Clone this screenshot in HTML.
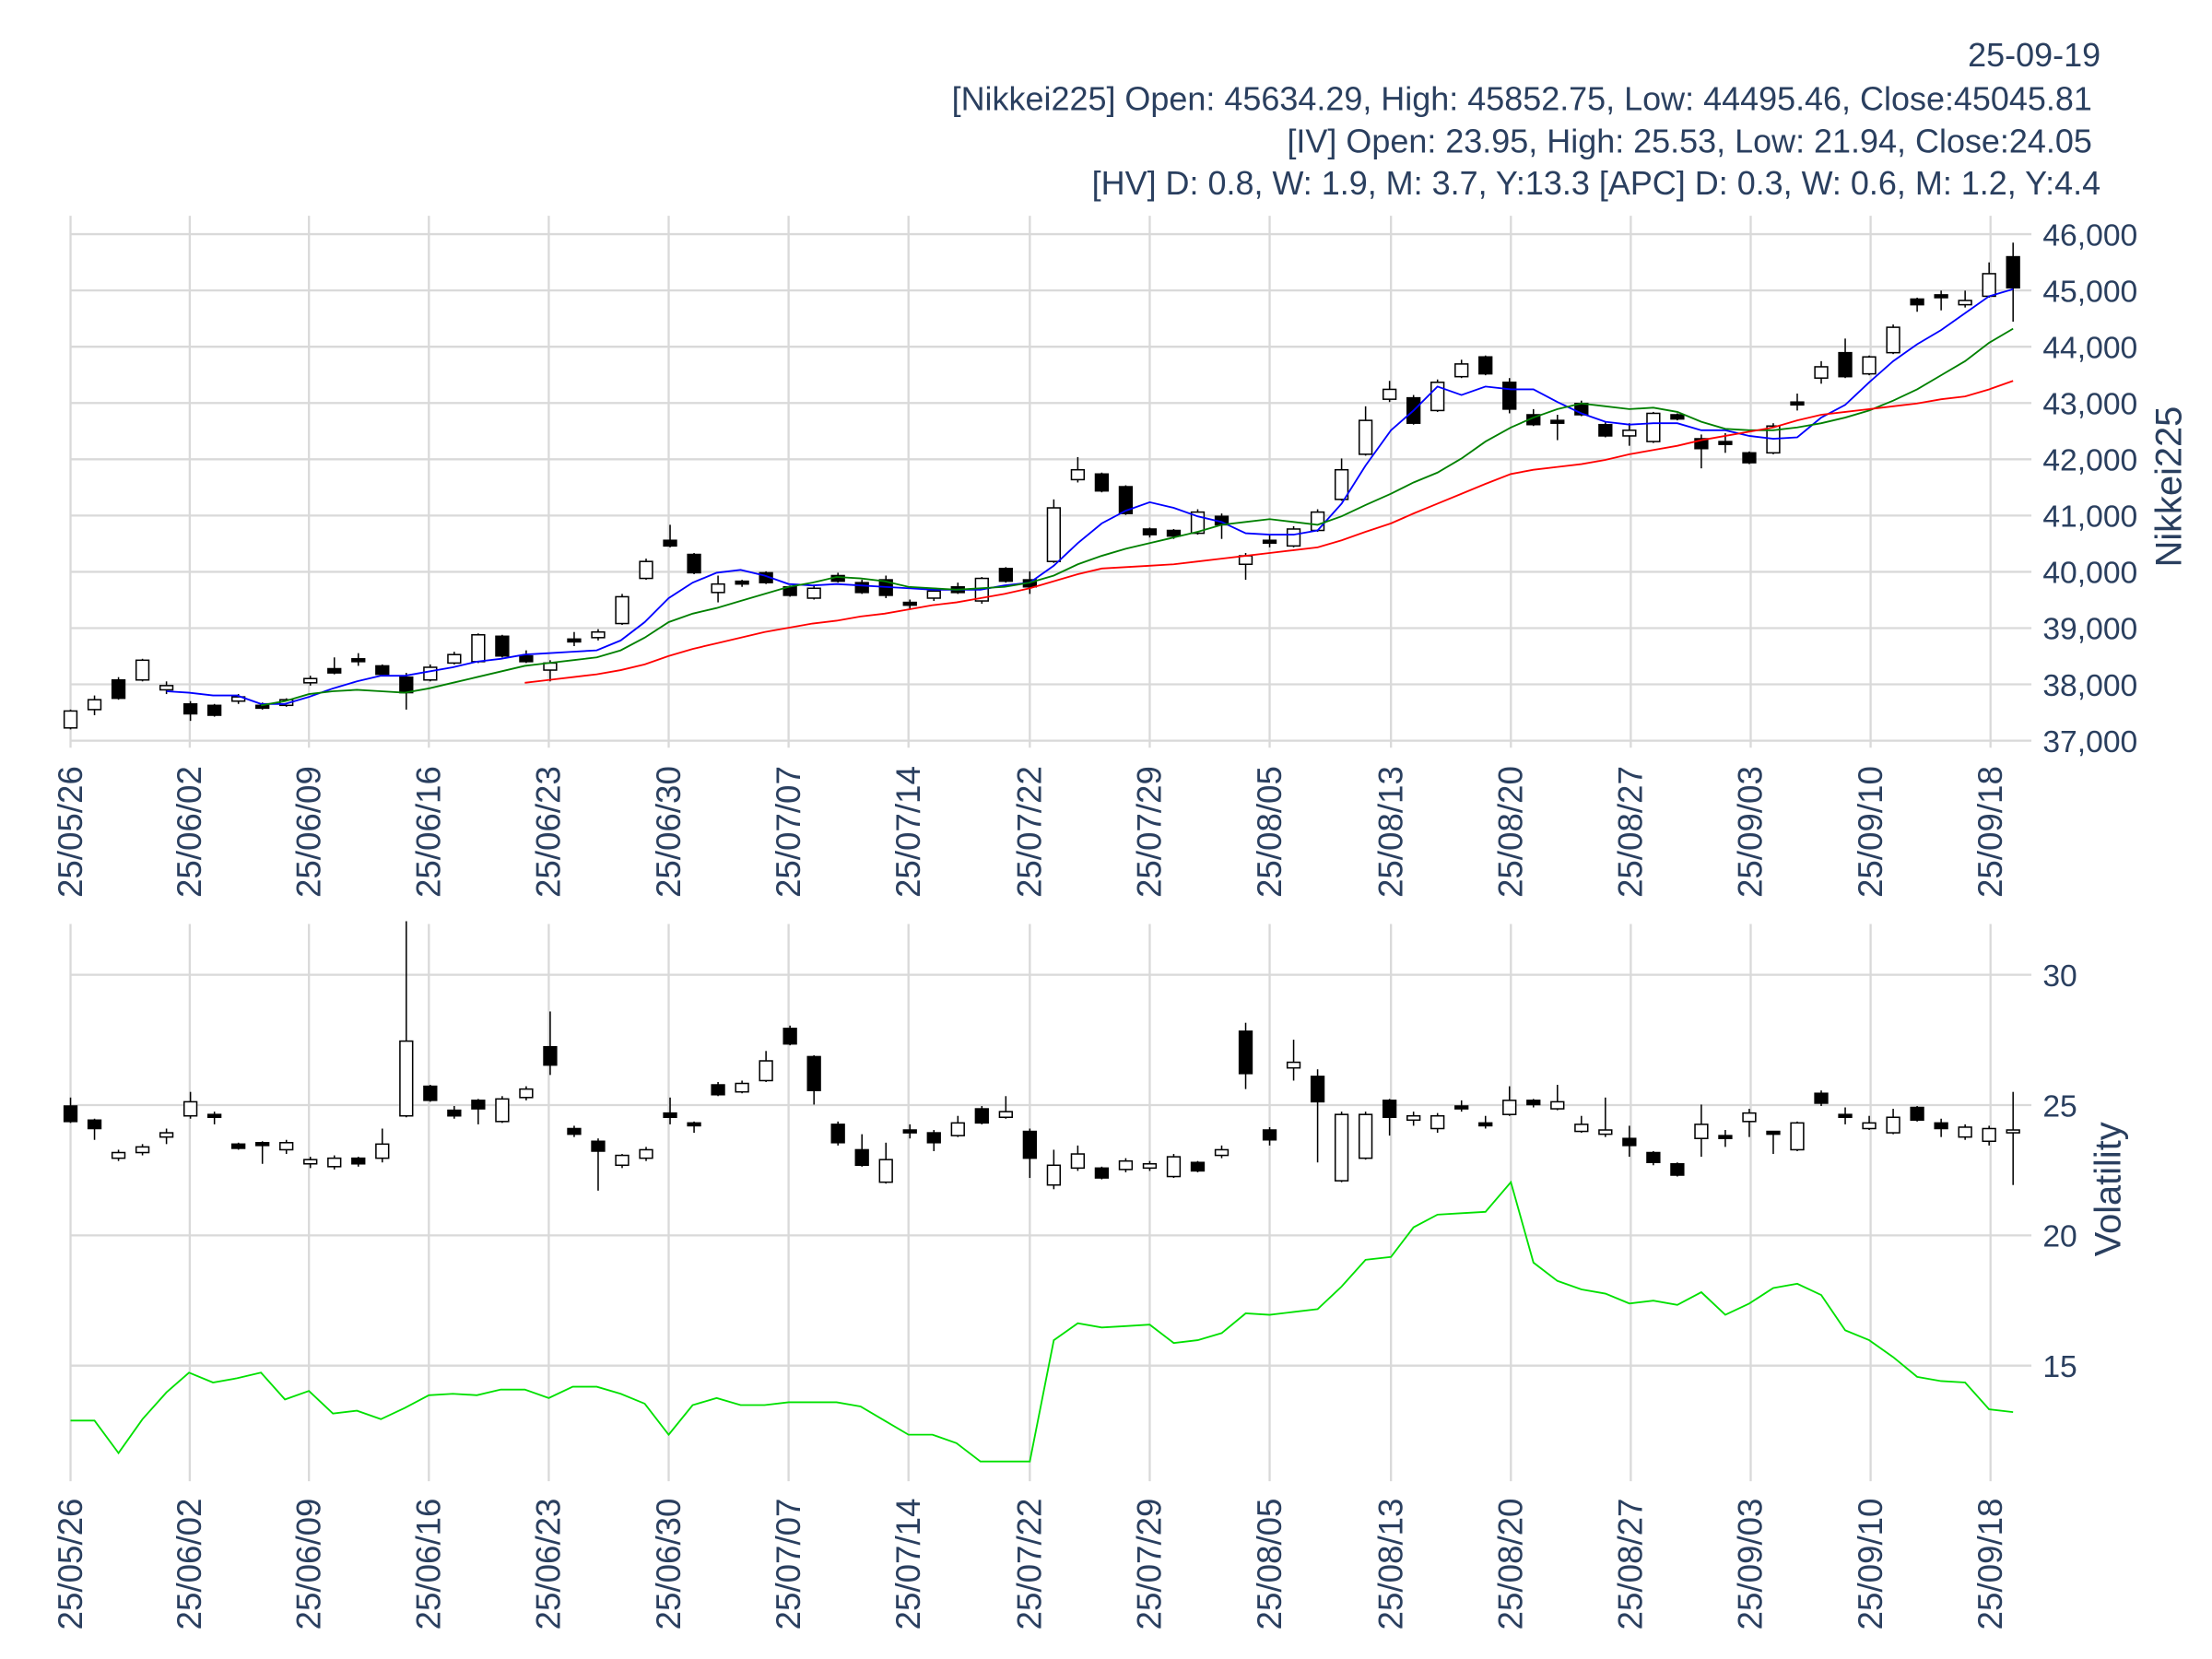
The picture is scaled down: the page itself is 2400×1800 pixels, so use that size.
<!DOCTYPE html>
<html><head><meta charset="utf-8"><style>
html,body{margin:0;padding:0;background:#fff}
svg{display:block}
text{font-family:"Liberation Sans",sans-serif;fill:#2a3f5f}
</style></head><body>
<svg id="s" width="2400" height="1800" viewBox="0 0 1568 1176" xmlns="http://www.w3.org/2000/svg">
<rect width="1568" height="1176" fill="#fff"/>
<g id="grid" stroke="#d9d9d9" stroke-width="1.5"></g>
<g id="c"></g>
<g font-size="23.5">
<text x="1489" y="47" text-anchor="end">25-09-19</text>
<text x="1483" y="78" text-anchor="end">[Nikkei225] Open: 45634.29, High: 45852.75, Low: 44495.46, Close:45045.81</text>
<text x="1483" y="108" text-anchor="end">[IV] Open: 23.95, High: 25.53, Low: 21.94, Close:24.05</text>
<text x="1489" y="138" text-anchor="end">[HV] D: 0.8, W: 1.9, M: 3.7, Y:13.3 [APC] D: 0.3, W: 0.6, M: 1.2, Y:4.4</text>
<text transform="translate(1546,345) rotate(-90)" text-anchor="middle" font-size="26">Nikkei225</text>
<text transform="translate(1503,843) rotate(-90)" text-anchor="middle" font-size="26">Volatility</text>
</g>
<g id="t" font-size="22"></g>
</svg>
<script>
(function(){
var NS="http://www.w3.org/2000/svg";
function el(p,tag,a,txt){var e=document.createElementNS(NS,tag);for(var k in a)e.setAttribute(k,a[k]);if(txt!==undefined)e.textContent=txt;p.appendChild(e);return e;}
var G=document.getElementById('grid'),C=document.getElementById('c'),T=document.getElementById('t');
var dx=[50,134.5,219,304,389,474,559,644,730,815,900,986,1071,1156,1241,1326,1411];
var dl=["25/05/26","25/06/02","25/06/09","25/06/16","25/06/23","25/06/30","25/07/07","25/07/14","25/07/22","25/07/29","25/08/05","25/08/13","25/08/20","25/08/27","25/09/03","25/09/10","25/09/18"];
dx.forEach(function(x,i){
 el(G,'line',{x1:x,x2:x,y1:153,y2:530});
 el(G,'line',{x1:x,x2:x,y1:655,y2:1050});
 el(T,'text',{transform:'translate('+(x+8)+',543) rotate(-90)','text-anchor':'end','font-size':24},dl[i]);
 el(T,'text',{transform:'translate('+(x+8)+',1062) rotate(-90)','text-anchor':'end','font-size':24},dl[i]);
});
for(var v=37000;v<=46000;v+=1000){var y=166+(46000-v)*0.03989;
 el(G,'line',{x1:50,x2:1440,y1:y,y2:y});
 el(T,'text',{x:1448,y:y+8},(v/1000)+',000');}
[30,25,20,15].forEach(function(v){var y=691+(30-v)*18.47;
 el(G,'line',{x1:50,x2:1440,y1:y,y2:y});
 el(T,'text',{x:1448,y:y+8},v);});
var tc=[[504,516,503,517,0],[496,503,493,507,0],[482,495,480,496,1],[468,482,467,483,0],[486,489,483,492,0],[499,506,497,511,1],[500,507,499,508,1],[494,497,492,499,0],[500,502,498,503,1],[496,500,495,501,0],[481,484,479,486,0],[474,477,466,478,1],[467,469,463,472,1],[472,478,471,479,1],[480,491,477,503,1],[473,482,471,483,0],[464,470,462,471,0],[450,469,449,470,0],[451,465,450,466,1],[465,469,461,470,1],[470,475,468,483,0],[453,455,448,458,1],[448,452,446,454,0],[423,442,421,443,0],[398,410,396,411,0],[383,387,372,388,1],[393,406,392,407,1],[414,420,408,427,0],[412,414,411,416,1],[406,413,405,414,1],[416,422,415,423,1],[417,424,415,425,0],[408,412,406,413,1],[413,420,411,421,1],[411,422,408,424,1],[427,429,425,432,1],[419,424,418,426,0],[416,420,413,421,1],[410,426,409,428,0],[403,412,402,413,1],[411,416,405,421,1],[360,398,354,399,0],[333,340,324,342,0],[336,348,335,349,1],[345,364,344,365,1],[375,379,374,381,1],[376,380,375,382,1],[363,378,361,379,0],[366,372,364,382,1],[394,400,392,411,0],[383,385,379,388,1],[375,387,373,388,0],[363,376,361,377,0],[333,354,325,355,0],[298,322,288,323,0],[276,283,270,285,0],[282,300,280,301,1],[271,291,269,292,0],[258,267,255,268,0],[253,265,252,266,1],[271,290,268,293,1],[294,301,290,302,1],[298,300,294,312,1],[286,294,284,295,1],[301,309,299,310,1],[305,309,300,316,0],[293,313,292,314,0],[294,297,293,298,1],[311,318,308,332,1],[313,315,307,321,1],[321,328,320,329,1],[302,321,300,322,0],[285,287,279,291,1],[260,268,256,272,0],[250,267,240,268,1],[253,265,252,266,0],[232,250,230,251,0],[212,216,211,221,1],[209,211,206,220,1],[213,216,206,218,0],[194,210,186,211,0],[182,204,172,228,1]];
var bc=[[784,795,778,796,1],[794,800,793,808,1],[817,821,815,823,0],[813,817,811,819,0],[803,806,800,811,0],[781,791,774,793,0],[790,792,788,797,1],[811,814,810,815,1],[810,812,809,825,1],[810,815,808,818,0],[822,825,820,828,0],[821,827,819,829,0],[821,825,820,827,1],[811,821,800,824,0],[738,791,653,792,0],[770,780,769,781,1],[787,791,784,793,1],[780,786,779,797,1],[779,795,777,796,0],[772,778,770,780,0],[742,755,717,762,1],[800,804,798,806,1],[809,816,807,844,1],[819,826,818,828,0],[815,821,813,823,0],[789,792,778,797,1],[796,798,795,803,1],[769,776,767,777,1],[768,774,766,775,0],[752,766,745,767,0],[729,740,727,741,1],[749,773,748,783,1],[797,810,795,812,1],[815,826,804,827,1],[822,838,810,839,0],[801,803,797,807,1],[803,810,801,816,1],[796,805,791,806,0],[786,796,784,797,1],[788,792,777,793,0],[802,821,800,835,1],[826,840,815,843,0],[818,828,812,830,0],[828,835,827,836,1],[823,829,821,831,0],[825,828,823,830,0],[820,834,818,835,0],[824,830,823,831,1],[815,819,812,821,0],[731,761,725,772,1],[801,808,799,812,1],[753,757,737,766,0],[763,781,758,824,1],[790,837,788,838,0],[790,821,788,822,0],[780,792,779,805,1],[791,794,788,798,0],[791,800,789,803,0],[784,786,780,788,1],[796,798,791,800,1],[780,790,770,791,0],[780,783,779,785,1],[781,786,769,787,0],[797,802,791,803,0],[801,804,778,806,0],[807,812,798,820,1],[817,824,816,826,1],[825,833,824,834,1],[797,807,783,820,0],[805,807,801,813,1],[789,795,786,806,0],[802,804,802,818,1],[796,815,795,816,0],[775,782,773,784,1],[790,792,785,797,1],[796,800,791,801,0],[792,803,786,804,0],[785,794,784,795,1],[796,800,793,806,1],[799,806,797,808,0],[800,809,798,812,0],[801,803,774,840,0]];
function drawC(arr){arr.forEach(function(c,i){var x=50+17*i;
 el(C,'line',{x1:x,x2:x,y1:c[2],y2:c[3],stroke:'#000','stroke-width':1});
 el(C,'rect',{x:x-4.5,y:c[0],width:9,height:Math.max(1.5,c[1]-c[0]),fill:c[4]?'#000':'#fff',stroke:'#000','stroke-width':1});});}
drawC(tc);drawC(bc);
function line(pts,col){el(C,'polyline',{points:pts,fill:'none',stroke:col,'stroke-width':1.2});}
line("118,490 134,491 151,493 168,493 185,499 202,499 219,494 236,488 253,483 270,479 287,479 304,476 321,473 338,469 355,467 372,464 389,463 406,462 423,461 440,454 457,441 474,424 491,413 508,406 525,404 542,408 559,414 576,415 593,414 610,415 627,416 644,417 661,418 678,418 695,418 712,415 730,413 747,401 764,385 781,371 798,362 815,356 832,360 849,366 866,370 883,378 900,379 917,379 934,376 951,357 968,330 986,305 1002,291 1019,274 1036,280 1053,274 1071,276 1087,276 1104,285 1121,293 1138,299 1155,301 1172,300 1189,300 1206,305 1223,305 1240,309 1257,311 1274,310 1291,296 1308,287 1325,271 1342,256 1359,244 1376,234 1393,222 1410,210 1427,205","#0000ff");
line("185,500 202,497 219,492 236,490 253,489 270,490 287,491 304,488 321,484 338,480 355,476 372,472 389,470 406,468 423,466 440,461 457,452 474,441 491,435 508,431 525,426 542,421 559,416 576,413 593,409 610,410 627,412 644,416 661,417 678,418 695,417 712,416 730,413 747,408 764,400 781,394 798,389 815,385 832,381 849,377 866,372 883,370 900,368 917,370 934,372 951,366 968,358 986,350 1002,342 1019,335 1036,325 1053,313 1071,303 1087,296 1104,290 1121,286 1138,288 1155,290 1172,289 1189,292 1206,299 1223,304 1240,305 1257,305 1274,303 1291,300 1308,296 1325,291 1342,284 1359,276 1376,266 1393,256 1410,243 1427,233","#008000");
line("372,484 389,482 406,480 423,478 440,475 457,471 474,465 491,460 508,456 525,452 542,448 559,445 576,442 593,440 610,437 627,435 644,432 661,429 678,427 695,424 712,421 730,417 747,412 764,407 781,403 798,402 815,401 832,400 849,398 866,396 883,394 900,392 917,390 934,388 951,383 968,377 986,371 1002,364 1019,357 1036,350 1053,343 1071,336 1087,333 1104,331 1121,329 1138,326 1155,322 1172,319 1189,316 1206,312 1223,309 1240,306 1257,303 1274,298 1291,294 1308,292 1325,290 1342,288 1359,286 1376,283 1393,281 1410,276 1427,270","#ff0000");
line("50,1007 67,1007 84,1030 101,1006 118,987 134,973 151,980 168,977 185,973 202,992 219,986 236,1002 253,1000 270,1006 287,998 304,989 321,988 338,989 355,985 372,985 389,991 406,983 423,983 440,988 457,995 474,1017 491,996 508,991 525,996 542,996 559,994 576,994 593,994 610,997 627,1007 644,1017 661,1017 678,1023 695,1036 712,1036 730,1036 747,950 764,938 781,941 798,940 815,939 832,952 849,950 866,945 883,931 900,932 917,930 934,928 951,912 968,893 986,891 1002,870 1019,861 1036,860 1053,859 1071,838 1087,895 1104,908 1121,914 1138,917 1155,924 1172,922 1189,925 1206,916 1223,932 1240,924 1257,913 1274,910 1291,918 1308,943 1325,950 1342,962 1359,976 1376,979 1393,980 1410,999 1427,1001","#00e000");
})();
</script>
</body></html>
